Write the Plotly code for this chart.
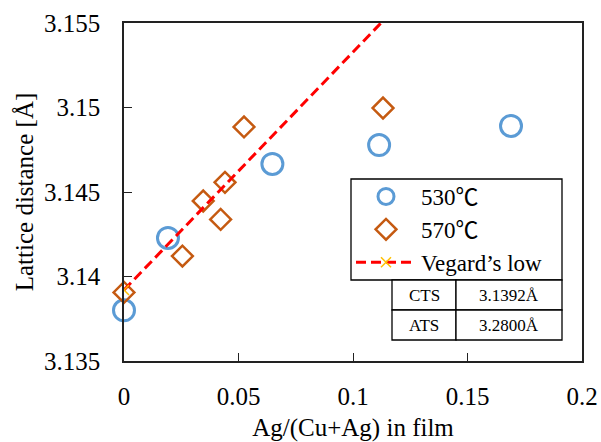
import plotly.graph_objects as go

FONT = "Liberation Serif, Times New Roman, serif"
CJK = "Noto Sans CJK JP"

x_530 = [0.0, 0.0192, 0.0648, 0.1114, 0.169]
y_530 = [3.1380, 3.14228, 3.14666, 3.14778, 3.14891]

x_570 = [0.0, 0.0255, 0.0346, 0.0422, 0.0441, 0.0524, 0.1131]
y_570 = [3.13906, 3.14121, 3.14447, 3.14338, 3.14557, 3.14885, 3.14997]

# Vegard's law endpoints (x=0: CTS, x=1: ATS)
x_vegard = [0.0, 1.0]
CTS = 3.1392
ATS = 3.2800
y_vegard = [CTS, ATS]

table_rows = [["CTS", "3.1392Å"], ["ATS", "3.2800Å"]]

x_ticks = [0, 0.05, 0.1, 0.15, 0.2]
x_ticklabels = ["0", "0.05", "0.1", "0.15", "0.2"]
y_ticks = [3.135, 3.14, 3.145, 3.15, 3.155]
y_ticklabels = ["3.135", "3.14", "3.145", "3.15", "3.155"]


def deg_label(t):
    return f"{t}<span style='font-family:{CJK}'>℃</span>"


fig = go.Figure()
fig.add_trace(go.Scatter(
    x=x_530, y=y_530, mode="markers", name=deg_label(530),
    marker=dict(symbol="circle-open", size=21, color="#5B9BD5",
                line=dict(color="#5B9BD5", width=3)),
    cliponaxis=False))
fig.add_trace(go.Scatter(
    x=x_570, y=y_570, mode="markers", name=deg_label(570),
    marker=dict(symbol="diamond-open", size=16, color="#C55A11",
                line=dict(color="#C55A11", width=2.5)),
    cliponaxis=False))
fig.add_trace(go.Scatter(
    x=x_vegard, y=y_vegard, mode="lines+markers", name="Vegard’s low",
    line=dict(color="#FF0000", width=3, dash="10px,5px"),
    marker=dict(symbol="x-thin-open", size=10, color="#FFC000",
                line=dict(color="#FFC000", width=1.5))))

plot_l, plot_w, plot_t, plot_h = 124, 458, 23, 338

def px_x(p):
    return (p - plot_l) / plot_w

def px_y(p):
    return 1 - (p - plot_t) / plot_h

tickfont = dict(family=FONT, size=25, color="black")
axis_common = dict(automargin=False, tickfont=tickfont,
                   showline=True, mirror=True, linecolor="#222222", linewidth=1.5,
                   ticks="inside", ticklen=8, tickwidth=1.3, tickcolor="#222222",
                   showgrid=False, zeroline=False)
fig.update_layout(
    width=601, height=442,
    margin=dict(l=124, r=19, t=23, b=81, autoexpand=False),
    paper_bgcolor="white", plot_bgcolor="white",
    font=dict(family=FONT, size=25, color="black"),
    showlegend=True,
    legend=dict(x=px_x(351), y=px_y(175), xanchor="left", yanchor="top",
                bgcolor="rgba(0,0,0,0)", borderwidth=0,
                font=dict(family=FONT, size=23, color="black"), itemwidth=60,
                tracegroupgap=0),
    xaxis=dict(range=[0, 0.2], tickvals=x_ticks, ticktext=x_ticklabels,
               ticklabelstandoff=12,
               title=dict(text="Ag/(Cu+Ag) in film", standoff=12,
                          font=dict(family=FONT, size=25, color="black")),
               **axis_common),
    yaxis=dict(range=[3.135, 3.155], tickvals=y_ticks, ticktext=y_ticklabels,
               ticklabelstandoff=17,
               title=dict(text="Lattice distance [Å]", standoff=3,
                          font=dict(family=FONT, size=25, color="black")),
               **axis_common),
)

# legend frame
fig.add_shape(type="rect", xref="paper", yref="paper",
              x0=px_x(351), x1=px_x(562), y0=px_y(280), y1=px_y(179),
              line=dict(color="black", width=1.3), fillcolor="white")

# table below legend (paper coords)
x0_px, x_mid_px, x1_px = 392, 456, 562
top_px, row_h = 280, 30

for i, row in enumerate(table_rows):
    yt = top_px + i * row_h
    yb = yt + row_h
    fig.add_shape(type="rect", xref="paper", yref="paper",
                  x0=px_x(x0_px), x1=px_x(x_mid_px), y0=px_y(yb), y1=px_y(yt),
                  line=dict(color="black", width=1.3), fillcolor="white")
    fig.add_shape(type="rect", xref="paper", yref="paper",
                  x0=px_x(x_mid_px), x1=px_x(x1_px), y0=px_y(yb), y1=px_y(yt),
                  line=dict(color="black", width=1.3), fillcolor="white")
    fig.add_annotation(xref="paper", yref="paper", xanchor="center", yanchor="middle",
                       x=px_x((x0_px + x_mid_px) / 2), y=px_y((yt + yb) / 2),
                       text=row[0], showarrow=False,
                       font=dict(family=FONT, size=17, color="black"))
    fig.add_annotation(xref="paper", yref="paper", xanchor="center", yanchor="middle",
                       x=px_x((x_mid_px + x1_px) / 2), y=px_y((yt + yb) / 2),
                       text=row[1], showarrow=False,
                       font=dict(family=FONT, size=17, color="black"))

fig.write_html("out.html", config={"displayModeBar": False},
               post_script="document.body.style.margin='0';")
